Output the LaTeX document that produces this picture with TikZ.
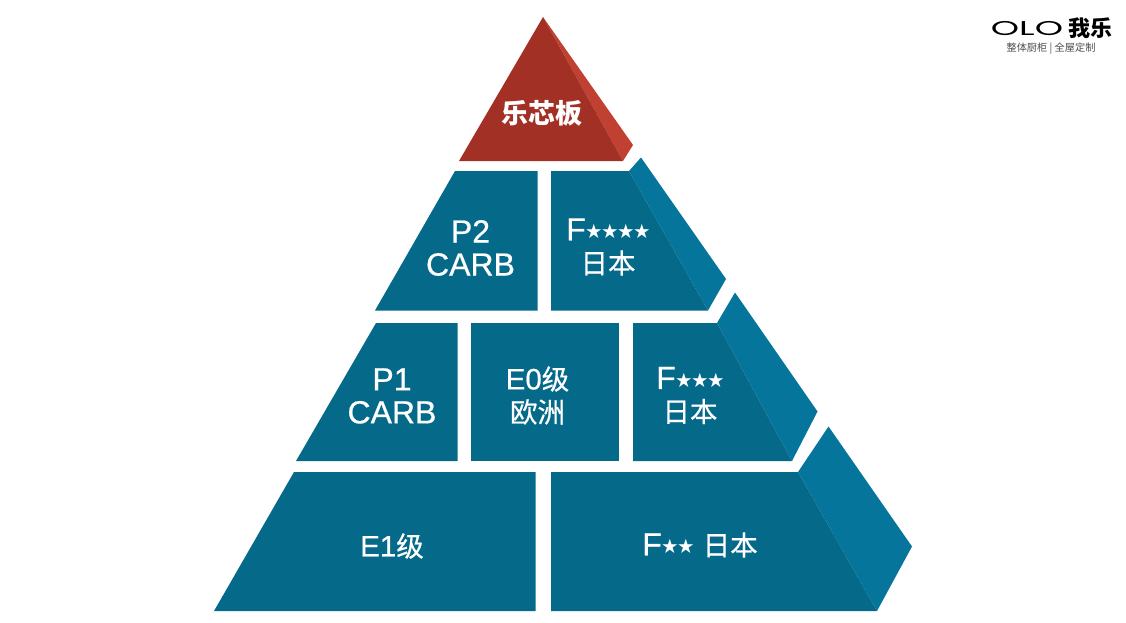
\documentclass[tikz,border=0pt]{standalone}
\usepackage{fontspec}
\setmainfont{Liberation Sans}[FakeBold=0.6]
\newfontfamily\cjk{Noto Sans CJK SC}[FakeBold=0.6]
\newfontfamily\cjkplain{Noto Sans CJK SC}
\newfontfamily\logofont{Poppins}
\definecolor{tealfront}{HTML}{05698A}
\definecolor{tealside}{HTML}{05759B}
\definecolor{redfront}{HTML}{A33024}
\definecolor{redside}{HTML}{C04031}
\newcommand{\stars}[1]{\raisebox{2.5pt}{\cjkplain\fontsize{16}{16}\selectfont #1}}
\newcommand{\kanji}[1]{{\cjk\fontsize{27.5}{27.5}\selectfont #1}}
\tikzset{
    front/.style={fill=tealfront},
    side/.style={fill=tealside},
    label/.style={text=white, align=center, inner sep=0pt, font=\fontsize{32}{33}\selectfont},
}
\begin{document}
\begin{tikzpicture}[x=1pt, y=-1pt]
    \useasboundingbox (0, 0) rectangle (1126, 623);

    % top
    \fill [redside] (543, 17) -- (633, 145) -- (623, 161) -- cycle;
    \fill [redfront] (543, 17) -- (459, 161) -- (623, 161) -- cycle;
    % second row
    \fill [front] (455, 171) -- (375, 310.5) -- (537.5, 310.5) -- (537.5, 171) -- cycle;
    \fill [side] (629, 171) -- (641, 157.5) -- (726, 279) -- (708, 310.5) -- cycle;
    \fill [front] (551, 171) -- (551, 310.5) -- (708, 310.5) -- (629, 171) -- cycle;
    % third row
    \fill [front] (376, 323) -- (296, 461) -- (457.5, 461) -- (457.5, 323) -- cycle;
    \fill [front] (471, 323) rectangle (619, 461);
    \fill [side] (717, 323) -- (735, 292.5) -- (817.5, 411.5) -- (792, 461) -- cycle;
    \fill [front] (633, 323) -- (633, 461) -- (792, 461) -- (717, 323) -- cycle;
    % bottom row
    \fill [front] (294, 472) -- (214, 611) -- (535.5, 611) -- (535.5, 472) -- cycle;
    \fill [side] (798, 472) -- (828.5, 426.5) -- (912, 546.5) -- (877, 611) -- cycle;
    \fill [front] (551, 472) -- (551, 611) -- (877, 611) -- (798, 472) -- cycle;

    \node [label] at (541.5, 113) (leban) {\cjkplain\bfseries\fontsize{27}{27}\selectfont 乐芯板};
    \node [label] at (470.5, 248) (ptwo) {P2\\CARB};
    \node [label] at (608, 247) (ffour) {F\stars{★★★★}\\\kanji{日本}};
    \node [label] at (392, 396) (pone) {P1\\CARB};
    \node [label] at (537.5, 395.5) (ezero) {\fontsize{29.5}{33}\selectfont E0\kanji{级}\\\kanji{欧洲}};
    \node [label] at (690, 395.5) (fthree) {F\stars{★★★}\\\kanji{日本}};
    \node [label] at (392, 546) (eone) {\fontsize{29.5}{33}\selectfont E1\kanji{级}};
    \node [label] at (700, 545) (ftwo) {F\stars{★★} \kanji{日本}};

    % logo
    \node [inner sep=0pt, xscale=1.8, font=\logofont\fontsize{20}{20}\selectfont] at (1027, 29) (olo) {OLO};
    \node [inner sep=0pt, font=\cjkplain\bfseries\fontsize{22}{22}\selectfont] at (1090, 28.5) (wole) {我乐};
    \node [inner sep=0pt, text=black!70, font=\cjkplain\fontsize{10.2}{10}\selectfont] at (1051, 48.5) (slogan) {整体厨柜 | 全屋定制};
\end{tikzpicture}
\end{document}
